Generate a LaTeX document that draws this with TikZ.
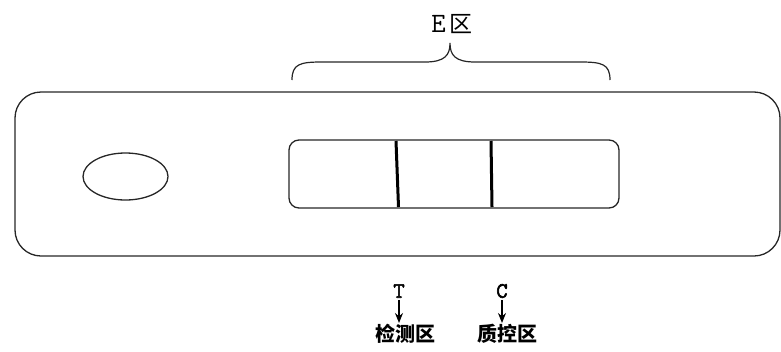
\documentclass[tikz,border=0pt]{standalone}
\usepackage{fontspec}
\newfontfamily\cjk{Noto Sans CJK SC}
\newfontfamily\monobold[FakeBold=2.5]{Latin Modern Mono}
\usetikzlibrary{arrows.meta}
\begin{document}
\begin{tikzpicture}[x=1pt,y=-1pt,
  outline/.style={draw=black!85,line width=1.3pt},
  bar/.style={draw=black,line width=3pt},
  cjklab/.style={font=\cjk\bfseries\fontsize{20}{20}\selectfont,inner sep=0pt},
  letter/.style={font=\monobold\fontsize{22}{22}\selectfont,inner sep=0pt},
  pointer/.style={draw=black,line width=1.4pt,-{Stealth[length=10pt,width=8pt]}}]
\useasboundingbox (0,0) rectangle (781,351);
% outer card
\draw[outline,rounded corners=26pt] (15,92) rectangle (780,256);
% sample well
\draw[outline] (125.5,176.5) ellipse [x radius=42.5,y radius=23.5];
% test window
\draw[outline,rounded corners=10pt] (289,140) rectangle (619,208);
\coordinate (t1) at (396,141);
\coordinate (t2) at (398.5,207);
\coordinate (c1) at (491,141);
\coordinate (c2) at (492,207);
\draw[bar] (t1) -- (t2);
\draw[bar] (c1) -- (c2);
% brace
\coordinate (bl) at (292,80);
\coordinate (br) at (610,80);
\coordinate (btip) at (450,43);
\draw[outline,line width=1.2pt] (bl) .. controls (292,64) and (300,62) .. (322,62) -- (425,62)
  .. controls (445,62) and (450,55) .. (btip)
  .. controls (450,55) and (455,62) .. (475,62) -- (580,62)
  .. controls (602,62) and (610,64) .. (br);
\node[inner sep=0pt] (elab) at (452,24) {{\ttfamily\fontsize{28}{28}\selectfont E}\hspace{4pt}{\cjk\fontsize{23}{23}\selectfont 区}};
% labels
\node[letter] (T) at (399,291) {T};
\node[letter] (C) at (502,291) {C};
\node[cjklab] (Tz) at (405,334) {检测区};
\node[cjklab] (Cz) at (507,334) {质控区};
\draw[pointer] (T.south -| 399,0) ++(0,2) -- (399,323);
\draw[pointer] (C.south -| 502,0) ++(0,2) -- (502,323);
\end{tikzpicture}
\end{document}
